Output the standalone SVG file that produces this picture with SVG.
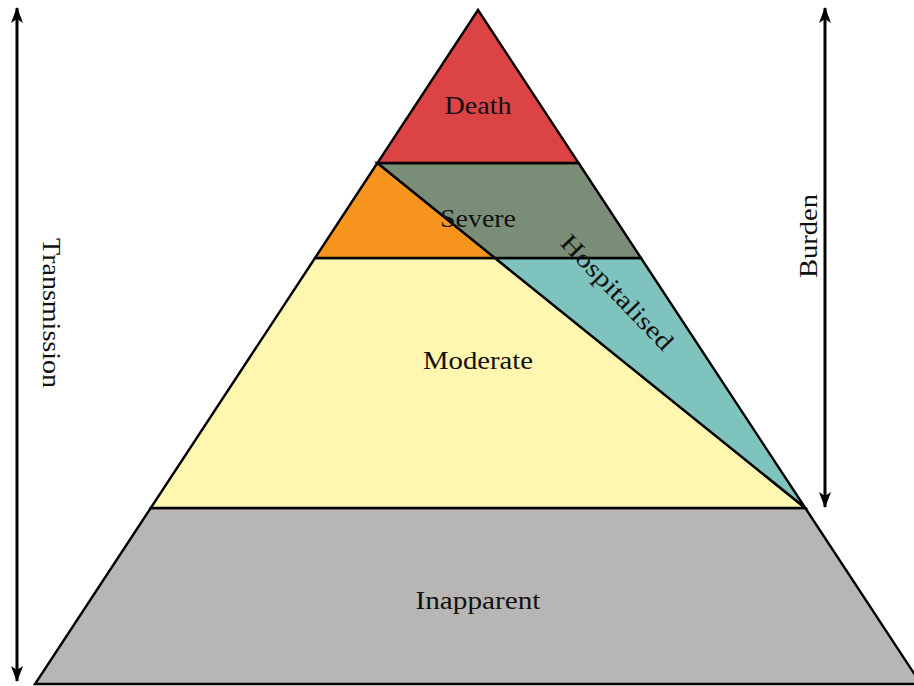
<svg xmlns="http://www.w3.org/2000/svg" width="914" height="686" viewBox="0 0 914 686">
<defs>
<marker id="ah" viewBox="0 0 16 12" refX="15" refY="6" markerWidth="16" markerHeight="12" markerUnits="userSpaceOnUse" orient="auto-start-reverse">
<path d="M0,0 L16,6 L0,12 L4,6 Z" fill="#000"/>
</marker>
<style>
.s{stroke:#000;stroke-width:2.4;stroke-linejoin:miter}
.t{font-family:"Liberation Serif","DejaVu Serif",serif;font-size:25px;fill:#111;text-anchor:middle}
.a{stroke:#000;stroke-width:3;fill:none}
</style>
</defs>
<rect width="914" height="686" fill="#fff"/>
<g id="inapparent">
<polygon class="s" points="150.7,508 805.3,508 921,684 35,684" fill="#B8B6B4"/>
<text class="t" x="478" y="609" textLength="125" lengthAdjust="spacingAndGlyphs">Inapparent</text>
</g>
<g id="moderate">
<polygon class="s" points="315,258 495,258 805.3,508 150.7,508" fill="#FFF6B0"/>
<text class="t" x="478" y="369" textLength="110" lengthAdjust="spacingAndGlyphs">Moderate</text>
</g>
<g id="hospitalised">
<polygon class="s" points="495,258 641,258 805.3,508" fill="#7FC3BE"/>
</g>
<g id="severe">
<polygon class="s" points="377.4,163 315,258 495,258" fill="#F7941D"/>
<polygon class="s" points="377.4,163 578.6,163 641,258 495,258" fill="#7A8E77"/>
<text class="t" x="478" y="227" textLength="76" lengthAdjust="spacingAndGlyphs">Severe</text>
</g>
<g id="death">
<polygon class="s" points="478,10 578.6,163 377.4,163" fill="#DC4345"/>
<text class="t" x="478" y="114" textLength="67" lengthAdjust="spacingAndGlyphs">Death</text>
</g>
<g id="hosp-label">
<text class="t" transform="translate(611,298) rotate(46)" x="0" y="0" textLength="150" lengthAdjust="spacingAndGlyphs">Hospitalised</text>
</g>
<g id="connectors">
<line class="a" x1="17" y1="681" x2="17" y2="8" marker-end="url(#ah)" marker-start="url(#ah)"/>
<line class="a" x1="825" y1="507" x2="825" y2="8" marker-end="url(#ah)" marker-start="url(#ah)"/>
</g>
<g id="labels">
<text class="t" transform="translate(43,313) rotate(90)" x="0" y="0" textLength="150" lengthAdjust="spacingAndGlyphs">Transmission</text>
<text class="t" transform="translate(817,236) rotate(-90)" x="0" y="0" textLength="84" lengthAdjust="spacingAndGlyphs">Burden</text>
</g>
</svg>
